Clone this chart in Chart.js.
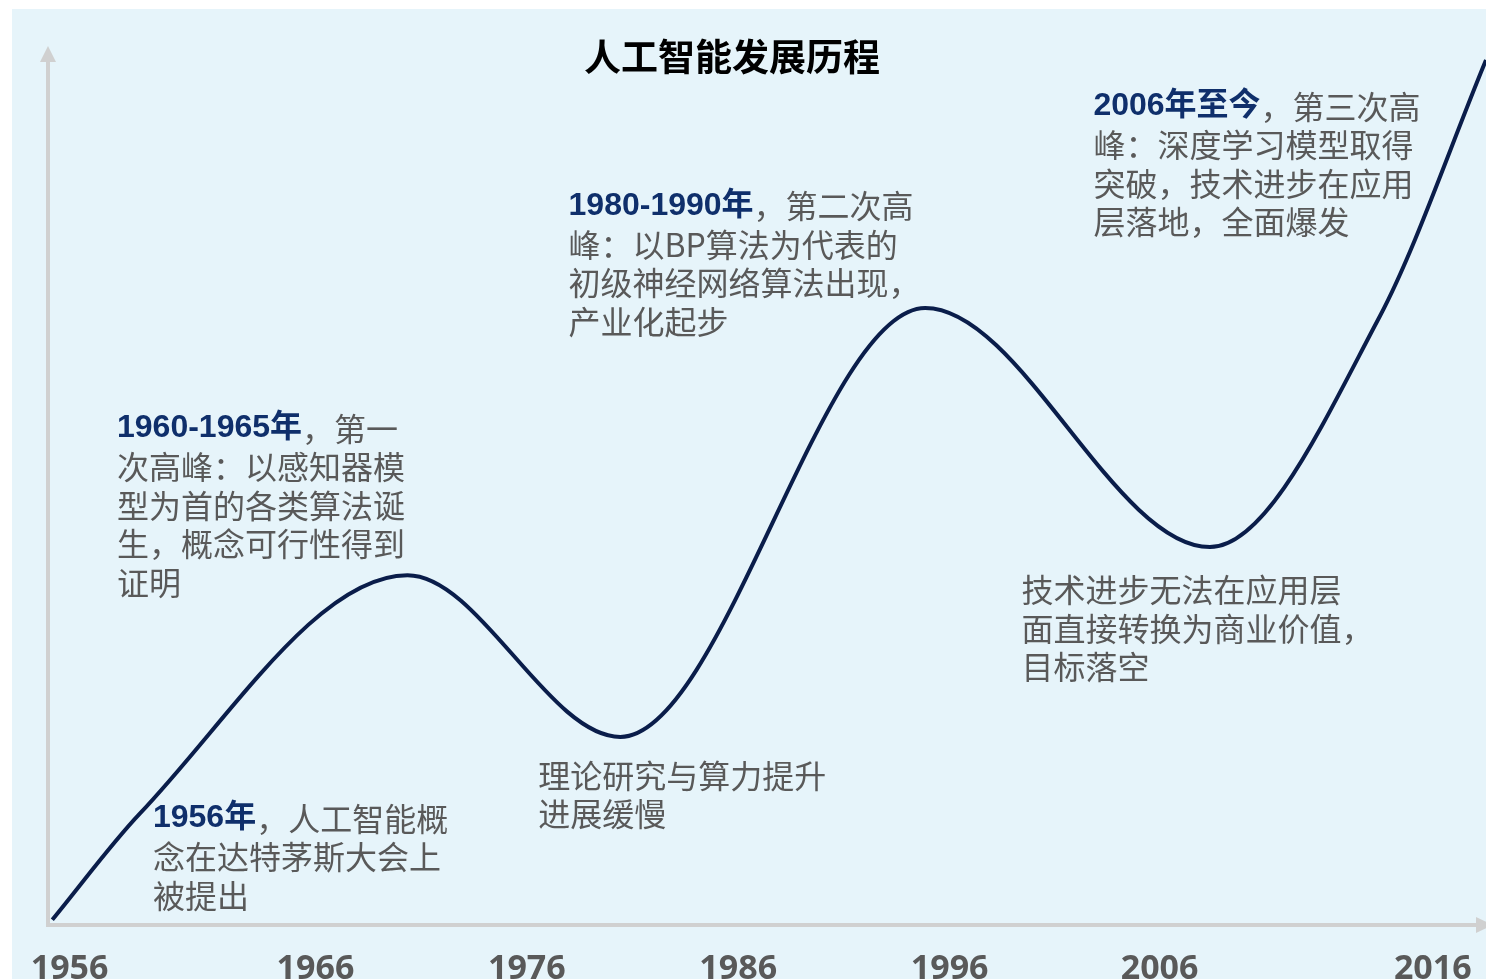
<!DOCTYPE html>
<html>
<head>
<meta charset="utf-8">
<script src="https://cdn.jsdelivr.net/npm/chart.js@4"></script>
<style>
  html, body { margin: 0; padding: 0; background: #ffffff; }
  #wrap { position: absolute; left: 12px; top: 9px; width: 1474px; height: 970px; background: #e6f4fa; }
</style>
</head>
<body>
<div id="wrap"><canvas id="aiChart"></canvas></div>
<script>
// curve: position along the timeline (0-100) and "heat" level (0-100)
var progress = [0.3, 6.4, 25.0, 39.8, 61.0, 80.8, 92.6, 100];
var level = [0.6, 12.7, 39.8, 21.4, 70.2, 43.0, 69.2, 98.4];

// year labels under the axis and where they sit on the timeline
var tickLabels = ["1956", "1966", "1976", "1986", "1996", "2006", "2016"];
var tickPos = [1.5, 18.6, 33.3, 48.0, 62.7, 77.3, 96.3];

// annotations: anchor on the timeline, bold lead-in, rest of the lines
var annoX = [7.3, 4.8, 34.1, 36.2, 67.7, 72.7];
var annoY = [12.1, 56.5, 17.0, 81.8, 38.1, 93.1];
var annoBold = ["1956年", "1960-1965年", "", "1980-1990年", "", "2006年至今"];
var annoLines = [
  ["，人工智能概", "念在达特茅斯大会上", "被提出"],
  ["，第一", "次高峰：以感知器模", "型为首的各类算法诞", "生，概念可行性得到", "证明"],
  ["理论研究与算力提升", "进展缓慢"],
  ["，第二次高", "峰：以BP算法为代表的", "初级神经网络算法出现，", "产业化起步"],
  ["技术进步无法在应用层", "面直接转换为商业价值，", "目标落空"],
  ["，第三次高", "峰：深度学习模型取得", "突破，技术进步在应用", "层落地，全面爆发"],
];

var chartTitle = "人工智能发展历程";

var axisColor = "#d0d0d0";
var cjk = "'Noto Sans CJK SC', 'Noto Sans', sans-serif";

// grey axes with arrow heads
var arrowAxes = {
  id: "arrowAxes",
  beforeDatasetsDraw(chart) {
    var ctx = chart.ctx;
    var a = chart.chartArea;
    ctx.save();
    ctx.strokeStyle = axisColor;
    ctx.fillStyle = axisColor;
    ctx.lineWidth = 4;
    ctx.beginPath();
    ctx.moveTo(a.left, a.bottom + 2);
    ctx.lineTo(a.left, a.top + 14);
    ctx.moveTo(a.left - 2, a.bottom);
    ctx.lineTo(a.right - 10, a.bottom);
    ctx.stroke();
    ctx.beginPath();
    ctx.moveTo(a.left, a.top);
    ctx.lineTo(a.left - 8, a.top + 16);
    ctx.lineTo(a.left + 8, a.top + 16);
    ctx.closePath();
    ctx.fill();
    ctx.beginPath();
    ctx.moveTo(a.right + 7, a.bottom);
    ctx.lineTo(a.right - 10, a.bottom - 8);
    ctx.lineTo(a.right - 10, a.bottom + 8);
    ctx.closePath();
    ctx.fill();
    ctx.restore();
  },
};

// title and the text blocks along the curve
var notes = {
  id: "notes",
  afterDraw(chart) {
    var ctx = chart.ctx;
    var xs = chart.scales.x;
    var ys = chart.scales.y;
    ctx.save();
    ctx.textBaseline = "middle";
    ctx.textAlign = "center";
    ctx.fillStyle = "#000000";
    ctx.font = "bold 37px " + cjk;
    ctx.fillText(chartTitle, 720, 48);

    ctx.textAlign = "left";
    var lh = 38.5;
    for (var i = 0; i < annoLines.length; i++) {
      var x = xs.getPixelForValue(annoX[i]);
      var y = ys.getPixelForValue(annoY[i]);
      var lines = annoLines[i];
      for (var j = 0; j < lines.length; j++) {
        var lx = x;
        if (j === 0 && annoBold[i]) {
          ctx.font = "bold 32px 'Liberation Sans', " + cjk;
          ctx.fillStyle = "#0f2f6b";
          ctx.fillText(annoBold[i], lx, y);
          lx += ctx.measureText(annoBold[i]).width;
        }
        ctx.font = "32px " + cjk;
        ctx.fillStyle = "#595959";
        ctx.fillText(lines[j], lx, y + j * lh);
      }
    }
    ctx.restore();
  },
};

const ctx = document.getElementById("aiChart").getContext("2d");
const aiChart = new Chart(ctx, {
  type: "line",
  data: {
    datasets: [
      {
        data: progress.map((p, i) => ({ x: p, y: level[i] })),
        borderColor: "#0a1d4a",
        borderWidth: 4,
        pointRadius: 0,
        fill: false,
        cubicInterpolationMode: "monotone",
        clip: false,
      },
    ],
  },
  options: {
    responsive: true,
    maintainAspectRatio: false,
    animation: false,
    layout: { padding: { left: 36, right: 0, top: 37, bottom: 0 } },
    plugins: {
      legend: { display: false },
      tooltip: { enabled: false },
    },
    scales: {
      x: {
        type: "linear",
        min: 0,
        max: 100,
        grid: { display: false, drawTicks: false },
        border: { display: false },
        afterBuildTicks(scale) {
          scale.ticks = tickPos.map((v) => ({ value: v }));
        },
        afterFit(scale) {
          scale.height = 54;
          scale.paddingLeft = 0;
          scale.paddingRight = 0;
        },
        ticks: {
          autoSkip: false,
          maxRotation: 0,
          padding: 24,
          color: "#595959",
          font: { family: "'Open Sans', sans-serif", size: 34, weight: "bold" },
          callback: (value, index) => tickLabels[index],
        },
      },
      y: {
        display: false,
        min: 0,
        max: 100,
      },
    },
  },
  plugins: [arrowAxes, notes],
});
</script>
</body>
</html>
